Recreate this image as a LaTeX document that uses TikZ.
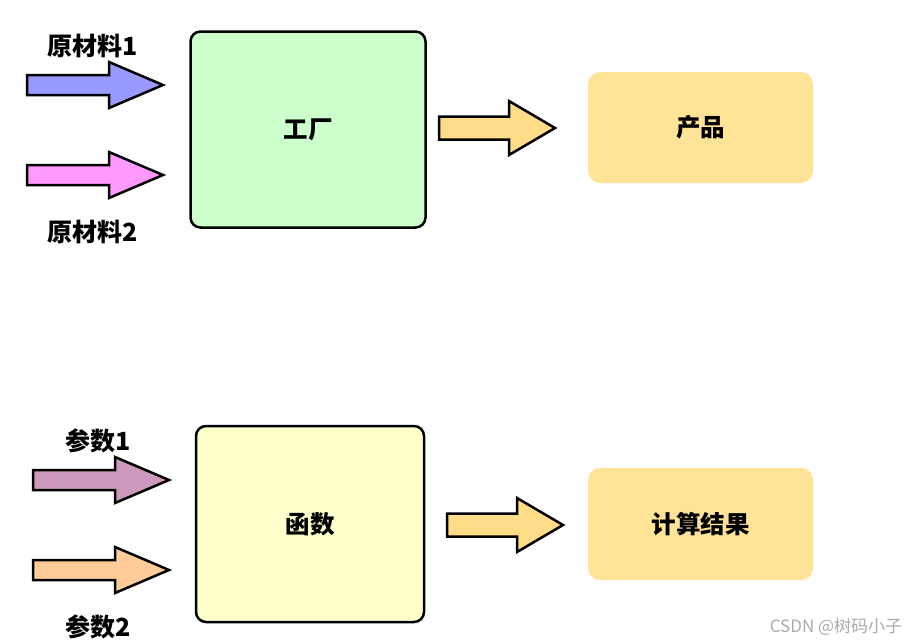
\documentclass[tikz,border=0pt]{standalone}
\usepackage{fontspec}
\newfontfamily\cjk{Noto Sans CJK SC}
\definecolor{cblue}{HTML}{9999FF}
\definecolor{cpink}{HTML}{FF99FF}
\definecolor{cmauve}{HTML}{CC99BB}
\definecolor{cpeach}{HTML}{FFCC99}
\definecolor{corange}{HTML}{FFDD88}
\definecolor{cgreen}{HTML}{CCFFCC}
\definecolor{cyellow}{HTML}{FFFFCC}
\definecolor{cgold}{HTML}{FFE397}
\definecolor{cwm}{HTML}{ABABAB}
\tikzset{
  lbl/.style={font=\cjk\bfseries\fontsize{25}{29}\selectfont, inner sep=0pt},
  bigbox/.style={draw=black, line width=2.5pt, rounded corners=10pt, inner sep=0pt, font=\cjk\bfseries\fontsize{24.5}{28}\selectfont},
  resbox/.style={fill=cgold, draw=none, rounded corners=12pt, inner sep=0pt, font=\cjk\bfseries\fontsize{24.5}{28}\selectfont},
  arrline/.style={draw=black, line width=2.5pt, line join=miter},
  pics/inarrow/.style={code={
    \draw[arrline, fill=#1] (0,-10) -- (82,-10) -- (82,-23) -- (136,0) -- (82,23) -- (82,10) -- (0,10) -- cycle;}},
  pics/outarrow/.style={code={
    \draw[arrline, fill=corange] (0,-11.5) -- (70,-11.5) -- (70,-27) -- (116,0) -- (70,27) -- (70,11.5) -- (0,11.5) -- cycle;}}
}
\begin{document}
\begin{tikzpicture}[x=1pt,y=-1pt]
\useasboundingbox (0,0) rectangle (909,643);
% top section
\node[bigbox, fill=cgreen, minimum width=235pt, minimum height=196pt] (factory) at (308,129.5) {工厂};
\node[resbox, minimum width=225pt, minimum height=111pt] (product) at (700.5,127.5) {产品};
\node[lbl] (raw1) at (93,46) {原材料1};
\node[lbl] (raw2) at (93,232) {原材料2};
\pic (a1) at (27,85) {inarrow=cblue};
\pic (a2) at (27,175) {inarrow=cpink};
\pic (a3) at (439,128) {outarrow};
% bottom section
\node[bigbox, fill=cyellow, minimum width=228pt, minimum height=196pt] (func) at (310,524) {函数};
\node[resbox, minimum width=225pt, minimum height=112pt] (result) at (700.5,524) {计算结果};
\node[lbl] (par1) at (98,441) {参数1};
\node[lbl] (par2) at (98,627) {参数2};
\pic (b1) at (33,480) {inarrow=cmauve};
\pic (b2) at (33,570) {inarrow=cpeach};
\pic (b3) at (447,525) {outarrow};
% watermark
\node[font=\cjk\fontsize{17}{19}\selectfont, text=cwm, inner sep=0pt] (wm) at (836,627) {CSDN @树码小子};
\end{tikzpicture}
\end{document}
